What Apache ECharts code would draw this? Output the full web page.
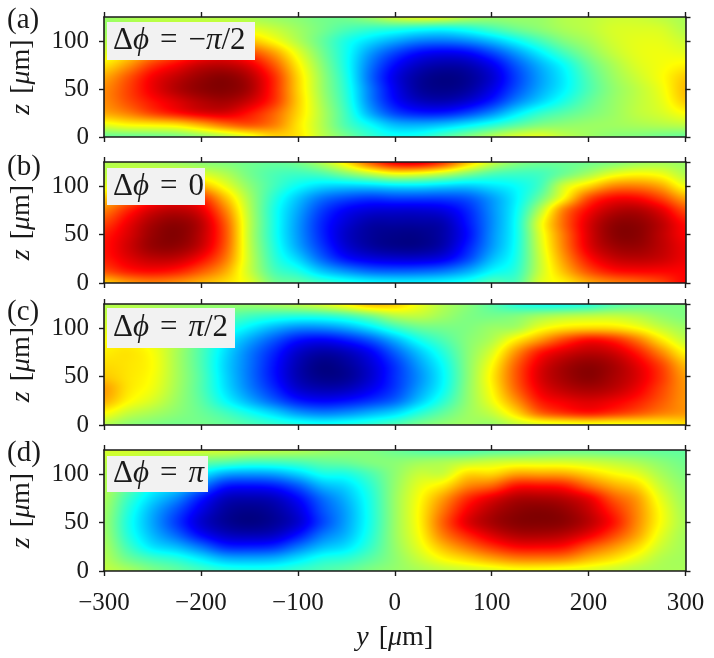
<!DOCTYPE html>
<html><head><meta charset="utf-8">
<style>html,body{margin:0;padding:0;background:#fff}#c{width:714px;height:658px}</style>
<script src="https://cdn.jsdelivr.net/npm/echarts@6/dist/echarts.min.js"></script>
</head><body><div id="c"></div>
<script>
// Node positions of the field samples
const yValues=[-300,-275,-250,-225,-200,-175,-150,-125,-100,-75,-50,-25,0,25,50,75,100,125,150,175,200,225,250,275,300];
const zValues=[125,112.5,100,87.5,75,62.5,50,37.5,25,12.5,0];
const xTicks=[-300,-200,-100,0,100,200,300];
const panelLetters=['(a)','(b)','(c)','(d)'];
// Normalised field (-1 navy ... 0 green ... +1 dark red).
// One inner list per y value; each runs z=125 down to z=0.
const panelA=[
[.05,.05,.1,.18,.3,.42,.48,.48,.42,.2,-.05],
[.08,.1,.18,.3,.45,.58,.62,.6,.5,.25,-.05],
[.1,.15,.28,.45,.64,.76,.78,.72,.62,.27,-.04],
[.1,.2,.4,.58,.76,.87,.9,.82,.72,.3,-.02],
[.1,.22,.45,.68,.86,.95,.97,.9,.8,.4,.03],
[.1,.22,.45,.72,.88,.98,.99,.93,.82,.52,.1],
[.08,.2,.38,.62,.8,.9,.92,.85,.72,.58,.2],
[.05,.14,.25,.44,.58,.67,.68,.66,.56,.5,.33],
[.02,.06,.1,.2,.28,.33,.34,.35,.33,.3,.3],
[-.02,-.02,-.05,-.02,.02,.05,.06,.08,.1,.1,.12],
[-.02,-.1,-.2,-.22,-.22,-.2,-.18,-.16,-.13,-.1,-.02],
[.05,-.15,-.32,-.45,-.52,-.55,-.52,-.5,-.42,-.25,-.15],
[.15,-.18,-.42,-.62,-.74,-.8,-.78,-.74,-.62,-.38,-.22],
[.2,-.22,-.5,-.74,-.87,-.94,-.94,-.87,-.7,-.4,-.2],
[.18,-.24,-.52,-.78,-.92,-.99,-.98,-.9,-.7,-.36,-.1],
[.1,-.2,-.48,-.75,-.9,-.96,-.94,-.84,-.62,-.28,0],
[.05,-.12,-.38,-.62,-.78,-.84,-.8,-.7,-.48,-.18,.1],
[.05,-.04,-.25,-.45,-.58,-.63,-.6,-.5,-.3,-.08,.18],
[.05,.02,-.12,-.28,-.4,-.44,-.42,-.34,-.16,0,.2],
[.1,.08,0,-.12,-.24,-.28,-.27,-.2,-.08,.03,.12],
[.12,.12,.08,.02,-.05,-.09,-.1,-.06,-.01,.05,.06],
[.15,.17,.16,.13,.08,.05,.03,.04,.05,.06,.02],
[.15,.18,.2,.2,.18,.15,.12,.12,.12,.08,0],
[.12,.17,.2,.22,.23,.24,.22,.2,.17,.1,-.03],
[.08,.1,.15,.2,.27,.35,.38,.35,.25,.12,-.05]];
const panelB=[
[.1,.12,.2,.35,.5,.62,.7,.72,.7,.6,.35],
[.1,.17,.32,.5,.68,.78,.82,.84,.8,.7,.45],
[.08,.2,.42,.65,.83,.92,.95,.95,.87,.74,.5],
[.05,.22,.48,.72,.88,.97,.99,.96,.86,.7,.47],
[.02,.18,.4,.66,.8,.88,.88,.85,.74,.58,.4],
[0,.1,.22,.38,.5,.58,.6,.58,.52,.42,.32],
[-.03,-.02,.03,.08,.11,.13,.13,.14,.15,.15,.2],
[-.05,-.1,-.12,-.17,-.2,-.2,-.2,-.18,-.15,-.1,-.02],
[-.02,-.13,-.24,-.36,-.42,-.45,-.45,-.42,-.33,-.2,-.07],
[.1,-.1,-.32,-.52,-.63,-.68,-.68,-.64,-.55,-.36,-.14],
[.3,0,-.34,-.6,-.76,-.83,-.86,-.83,-.72,-.47,-.2],
[.58,.12,-.33,-.64,-.82,-.92,-.95,-.93,-.8,-.55,-.25],
[.78,.22,-.3,-.62,-.83,-.93,-.98,-.97,-.83,-.57,-.27],
[.8,.2,-.3,-.62,-.83,-.93,-.98,-.97,-.83,-.56,-.27],
[.65,.12,-.33,-.62,-.8,-.9,-.92,-.9,-.78,-.52,-.25],
[.38,0,-.35,-.58,-.68,-.72,-.74,-.7,-.62,-.42,-.2],
[.15,-.1,-.3,-.44,-.47,-.48,-.47,-.45,-.38,-.26,-.1],
[.02,-.13,-.24,-.27,-.25,-.23,-.23,-.22,-.2,-.16,-.1],
[-.03,-.12,-.12,-.04,.1,.2,.18,.16,.14,.14,.18],
[-.04,-.03,.16,.26,.5,.55,.52,.5,.45,.38,.28],
[-.03,.08,.33,.6,.75,.82,.82,.8,.72,.6,.42],
[0,.2,.48,.74,.88,.96,.97,.93,.85,.72,.5],
[.05,.25,.5,.74,.9,.97,.98,.95,.88,.75,.55],
[.07,.22,.42,.62,.8,.88,.88,.88,.85,.75,.62],
[.05,.1,.22,.42,.6,.72,.75,.78,.78,.75,.75]];
const panelC=[
[.1,.13,.18,.24,.28,.32,.36,.44,.4,.25,.1],
[.1,.14,.2,.26,.3,.3,.3,.3,.26,.14,.03],
[.08,.12,.18,.2,.24,.25,.24,.22,.17,.08,0],
[.06,.06,.1,.1,.08,.08,.08,.07,.05,.02,-.02],
[.05,0,-.03,-.08,-.1,-.1,-.09,-.09,-.07,-.04,-.02],
[.05,-.06,-.16,-.26,-.31,-.33,-.32,-.3,-.24,-.12,-.05],
[.05,-.12,-.28,-.42,-.5,-.52,-.52,-.49,-.4,-.22,-.1],
[.08,-.16,-.4,-.58,-.68,-.72,-.72,-.67,-.56,-.33,-.15],
[.12,-.18,-.48,-.72,-.85,-.9,-.9,-.84,-.7,-.45,-.19],
[.18,-.17,-.48,-.76,-.92,-.99,-.98,-.9,-.75,-.5,-.22],
[.27,-.12,-.42,-.7,-.88,-.95,-.96,-.88,-.72,-.47,-.2],
[.38,-.02,-.3,-.58,-.76,-.83,-.84,-.78,-.65,-.4,-.16],
[.35,.1,-.15,-.4,-.56,-.65,-.66,-.64,-.55,-.32,-.1],
[.22,.12,-.05,-.22,-.36,-.44,-.47,-.44,-.36,-.18,-.02],
[.1,.06,-.02,-.1,-.18,-.24,-.26,-.24,-.17,-.06,.03],
[.02,0,0,.01,.01,.01,.01,.02,.03,.05,.06],
[-.08,-.02,.05,.1,.18,.25,.28,.26,.22,.14,.05],
[-.18,0,.08,.28,.46,.56,.58,.55,.46,.32,.13],
[-.22,.06,.22,.45,.7,.8,.82,.78,.7,.55,.18],
[-.22,.1,.3,.62,.82,.92,.93,.88,.78,.65,.2],
[-.18,.12,.33,.73,.88,.97,.98,.92,.82,.7,.22],
[-.1,.13,.32,.68,.84,.92,.92,.88,.78,.65,.22],
[-.05,.1,.25,.52,.7,.8,.82,.78,.7,.58,.24],
[-.02,.04,.14,.3,.48,.62,.65,.62,.58,.5,.26],
[0,0,.06,.13,.25,.38,.44,.46,.46,.45,.3]];
const panelD=[
[.17,.12,.1,.1,.08,.06,.05,.06,.08,.1,.13],
[.17,.1,.03,-.05,-.13,-.18,-.2,-.18,-.12,-.03,.08],
[.15,.07,-.08,-.22,-.32,-.4,-.42,-.38,-.29,-.12,0],
[.17,.02,-.18,-.32,-.48,-.6,-.64,-.55,-.38,-.18,-.06],
[.17,-.04,-.28,-.5,-.7,-.8,-.84,-.74,-.52,-.28,-.12],
[.16,-.08,-.42,-.7,-.87,-.94,-.95,-.86,-.67,-.39,-.17],
[.14,-.12,-.45,-.73,-.9,-.98,-.99,-.89,-.69,-.41,-.19],
[.12,-.12,-.43,-.7,-.87,-.94,-.95,-.86,-.66,-.39,-.18],
[.1,-.1,-.34,-.58,-.74,-.82,-.84,-.72,-.52,-.3,-.14],
[.06,-.06,-.22,-.4,-.54,-.6,-.62,-.52,-.38,-.2,-.1],
[.03,-.04,-.2,-.32,-.39,-.43,-.43,-.39,-.3,-.16,-.06],
[0,0,-.1,-.16,-.19,-.2,-.2,-.18,-.14,-.07,0],
[-.04,.02,.03,.04,.05,.05,.05,.05,.04,.03,.04],
[-.08,.06,.14,.2,.24,.26,.26,.24,.2,.14,.08],
[-.1,.08,.15,.3,.44,.52,.56,.5,.38,.25,.12],
[-.1,.12,.32,.48,.66,.76,.8,.68,.52,.33,.15],
[-.08,.15,.33,.56,.8,.9,.92,.82,.65,.42,.18],
[-.07,.17,.43,.72,.9,.97,.98,.9,.74,.49,.22],
[-.05,.17,.43,.73,.91,.99,.99,.91,.75,.5,.22],
[-.04,.17,.42,.7,.88,.96,.97,.88,.72,.48,.2],
[-.04,.15,.34,.55,.78,.86,.88,.78,.58,.38,.18],
[-.05,.12,.26,.42,.58,.68,.72,.62,.46,.3,.14],
[-.05,.08,.2,.33,.44,.48,.48,.43,.32,.2,.1],
[-.06,.02,.08,.14,.2,.24,.24,.2,.15,.1,.08],
[-.06,-.03,0,.03,.05,.07,.08,.07,.07,.07,.08]];
const panels=[panelA,panelB,panelC,panelD];

const SERIF='"Liberation Serif","DejaVu Serif",serif';
const INK='#1a1a1a';
const layouts=[{top:17,height:120},{top:162,height:121},{top:304,height:121},{top:450,height:121}];
const LEFT=103.5,WIDTH=582;
const letterCentres=[20,167,312,453];
const boxes=[[107,22,148,38],[107,168,98,37],[107,308,128,40],[107,456,101,36]];
const phaseSuffix=['{t|−}{i|π}{t|/2}','{t|0}','{i|π}{t|/2}','{i|π}'];

function jet(v){
  const t=(v+1)/2,c=x=>Math.max(0,Math.min(1,x));
  return [c(1.5-Math.abs(4*t-3))*255,c(1.5-Math.abs(4*t-2))*255,c(1.5-Math.abs(4*t-1))*255];
}
function cr(a,b,c,d,t){return .5*(2*b+(c-a)*t+(2*a-5*b+4*c-d)*t*t+(3*b-a-3*c+d)*t*t*t);}
function shade(g,c,r,u,v){ // smooth shading between the read samples, drawn per pixel
  const C=g.length-1,R=g[0].length-1,at=(j,i)=>g[Math.max(0,Math.min(C,j))][Math.max(0,Math.min(R,i))];
  const row=i=>cr(at(c-1,i),at(c,i),at(c+1,i),at(c+2,i),u);
  return cr(row(r-1),row(r),row(r+1),row(r+2),v);
}
function cellCanvas(g,c,r,w,h){
  const cv=document.createElement('canvas');cv.width=w;cv.height=h;
  const ctx=cv.getContext('2d'),im=ctx.createImageData(w,h);
  for(let py=0;py<h;py++)for(let px=0;px<w;px++){
    const col=jet(shade(g,c,r,(px+.5)/w,(py+.5)/h)),k=(py*w+px)*4;
    im.data[k]=col[0];im.data[k+1]=col[1];im.data[k+2]=col[2];im.data[k+3]=255;
  }
  ctx.putImageData(im,0,0);return cv;
}
function makeSeries(g,idx){
  const data=[];
  g.forEach((col,c)=>col.forEach((v,r)=>data.push([yValues[c],zValues[r],v])));
  const nC=yValues.length,nR=zValues.length;
  return {type:'custom',coordinateSystem:'cartesian2d',xAxisIndex:idx*2,yAxisIndex:idx*2,silent:true,z:1,
    encode:{x:0,y:1},data,animation:false,progressive:0,
    renderItem(params,api){
      const i=params.dataIndex,c=Math.floor(i/nR),r=i%nR;
      if(r>=nR-1||c>=nC-1)return null;
      const p0=api.coord([yValues[c],zValues[r]]),p1=api.coord([yValues[c+1],zValues[r+1]]);
      const x0=Math.round(p0[0]),y0=Math.round(p0[1]),x1=Math.round(p1[0]),y1=Math.round(p1[1]);
      return {type:'image',silent:true,style:{image:cellCanvas(g,c,r,x1-x0,y1-y0),x:x0,y:y0,width:x1-x0,height:y1-y0}};
    }};
}
const axisBase={z:5,axisLine:{show:true,onZero:false,lineStyle:{color:INK,width:1.6}},
  axisTick:{show:true,inside:false,length:5,lineStyle:{color:INK,width:1.4}},splitLine:{show:false}};
const nameRich={t:{fontFamily:SERIF,fontSize:28,color:INK},i:{fontFamily:SERIF,fontStyle:'italic',fontSize:28,color:INK},s:{width:10,fontSize:28}};
const grid=[],xAxis=[],yAxis=[],graphic=[];
layouts.forEach((l,i)=>{
  grid.push({left:LEFT,width:WIDTH,top:l.top,height:l.height});
  const last=i===layouts.length-1;
  xAxis.push({...axisBase,type:'value',gridIndex:i,min:xTicks[0],max:xTicks[xTicks.length-1],interval:100,position:'bottom',
    axisLabel:{show:last,margin:20,fontFamily:SERIF,fontSize:25,color:INK,formatter:v=>String(v).replace('-','−'),hideOverlap:false},
    name:last?'{i|y}{s| }{t|[}{i|μ}{t|m]}':'',nameLocation:'middle',nameGap:53,nameTextStyle:{rich:nameRich}});
  xAxis.push({...axisBase,type:'value',gridIndex:i,min:xTicks[0],max:xTicks[xTicks.length-1],interval:100,position:'top',axisLabel:{show:false}});
  yAxis.push({...axisBase,type:'value',gridIndex:i,min:0,max:125,interval:50,position:'left',
    axisLabel:{show:true,margin:15,fontFamily:SERIF,fontSize:25,color:INK},
    name:'{i|z}{s| }{t|[}{i|μ}{t|m]}',nameLocation:'middle',nameGap:68,nameRotate:90,nameTextStyle:{rich:nameRich}});
  yAxis.push({...axisBase,type:'value',gridIndex:i,min:0,max:125,interval:50,position:'right',axisLabel:{show:false}});
  const b=boxes[i];
  graphic.push({type:'rect',z:20,silent:true,shape:{x:b[0],y:b[1],width:b[2],height:b[3]},style:{fill:'#f2f2f2'}});
  graphic.push({type:'text',z:21,silent:true,x:b[0]+6,y:b[1]+b[3]/2,style:{
    text:'{t|Δ}{i|ϕ}{s| }{t|=}{s| }'+phaseSuffix[i],verticalAlign:'middle',
    rich:{t:{fontFamily:SERIF,fontSize:31,fill:INK},i:{fontFamily:SERIF,fontStyle:'italic',fontSize:31,fill:INK},s:{width:11,fontSize:31}}}});
  graphic.push({type:'text',z:21,silent:true,x:7,y:letterCentres[i],style:{text:panelLetters[i],fontFamily:SERIF,fontSize:29,fill:INK,verticalAlign:'middle'}});
});
const chart=echarts.init(document.getElementById('c'),null,{renderer:'canvas'});
chart.setOption({animation:false,backgroundColor:'#fff',grid,xAxis,yAxis,graphic,
  series:panels.map((g,i)=>makeSeries(g,i))});
</script></body></html>
